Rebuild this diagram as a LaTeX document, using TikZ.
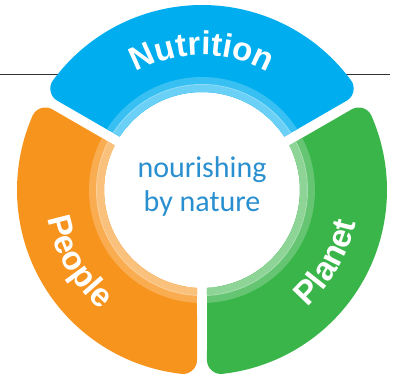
\documentclass[tikz,border=0pt]{standalone}
\usepackage{fontspec}
\setmainfont{Liberation Sans}
\newfontfamily\handfont{Carlito}
\usetikzlibrary{decorations.text}

\definecolor{nutblue}{HTML}{00AEEF}
\definecolor{peopleorange}{HTML}{F7941E}
\definecolor{planetgreen}{HTML}{3AB54A}
\definecolor{mottoblue}{HTML}{2A8FCF}

\newcommand{\labelfont}{\fontsize{33}{33}\selectfont\bfseries}

% one part of the ring: #1 start angle, #2 end angle, #3 colour
\newcommand{\ringpart}[3]{%
    % body, shrunk by the corner radius and stroked with round joins
    \filldraw[#3, line width=28pt, line join=round]
        ({#1+9.77}:112) -- ({#1+6.38}:171)
        arc[start angle={#1+6.38}, end angle={#2-6.38}, radius=171]
        -- ({#2-9.77}:112)
        arc[start angle={#2-9.77}, end angle={#1+9.77}, radius=112] -- cycle;
    % light band round the middle
    \fill[#3!78!white]
        ({#1+2.92}:98) -- ({#1+2.54}:113)
        arc[start angle={#1+2.54}, end angle={#2-2.54}, radius=113]
        -- ({#2-2.92}:98)
        arc[start angle={#2-2.92}, end angle={#1+2.92}, radius=98] -- cycle;
    \fill[#3!58!white]
        ({#1+2.92}:98) -- ({#1+2.73}:105)
        arc[start angle={#1+2.73}, end angle={#2-2.73}, radius=105]
        -- ({#2-2.92}:98)
        arc[start angle={#2-2.92}, end angle={#1+2.92}, radius=98] -- cycle;
    \draw[#3!45!white, line width=1pt]
        ({#1+2.7}:105.5) arc[start angle={#1+2.7}, end angle={#2-2.7}, radius=105.5];
}

\begin{document}
\begin{tikzpicture}[
    x=1pt,
    y=1pt,
    rule/.style={draw=black!80, line width=1pt},
    ringlabel/.style={decorate,
        decoration={text along path, text align=center, text color=white}},
    motto/.style={font=\handfont\fontsize{30}{34}\selectfont,
        text=mottoblue, align=center, inner sep=0pt},
]
    \useasboundingbox (-202,-187) rectangle (196,190);

    % rule behind the top part
    \coordinate (rule west) at (-202,115);
    \coordinate (rule east) at (188,115);
    \draw[rule] (rule west) -- (rule east);

    \ringpart{30}{150}{nutblue}
    \ringpart{150}{270}{peopleorange}
    \ringpart{270}{390}{planetgreen}

    % labels on the ring
    \path[ringlabel, decoration={text={|\labelfont|Nutrition}}]
        (150:135) arc[start angle=150, end angle=30, radius=135];
    \path[ringlabel, decoration={text={|\labelfont|People}}]
        (185:157) arc[start angle=185, end angle=235, radius=157];
    \path[ringlabel, decoration={text={|\labelfont|Planet}}]
        (305:157) arc[start angle=305, end angle=355, radius=157];

    \node[motto] (motto) at (0,3) {nourishing\\by nature};
\end{tikzpicture}
\end{document}
